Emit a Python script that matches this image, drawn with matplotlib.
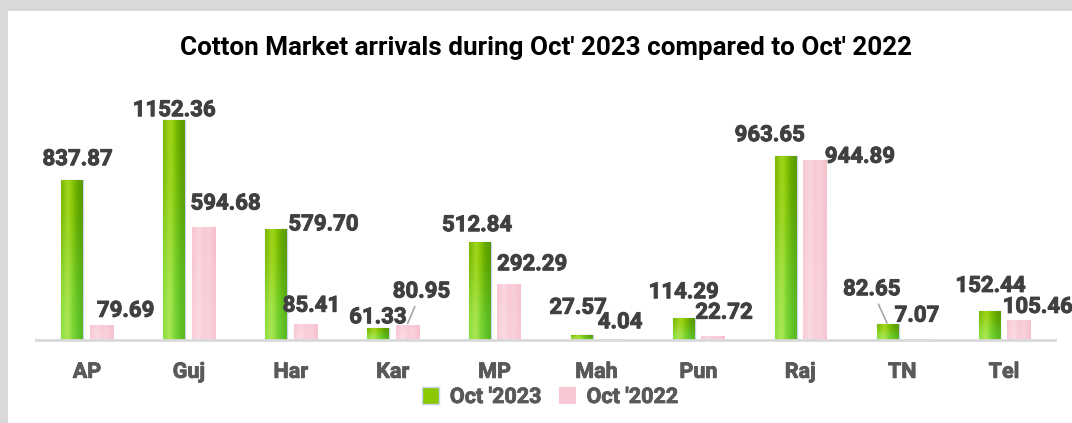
import numpy as np
import matplotlib.pyplot as plt
import matplotlib.patheffects as pe
from matplotlib.colors import to_rgb
from matplotlib.patches import Patch, Rectangle

# 数据
states = ['AP', 'Guj', 'Har', 'Kar', 'MP', 'Mah', 'Pun', 'Raj', 'TN', 'Tel']
oct_2023 = [837.87, 1152.36, 579.70, 61.33, 512.84, 27.57, 114.29, 963.65, 82.65, 152.44]
oct_2022 = [79.69, 594.68, 85.41, 80.95, 292.29, 4.04, 22.72, 944.89, 7.07, 105.46]

# 数据标签偏移 (像素)
off_2023 = [(5, 21), (0, 10), (47, 5), (0, 11), (-3, 17), (-4, 27), (0, 26), (-16, 21), (-16, 35), (1, 25)]
off_2022 = [(24, 14), (22, 23), (6, 18), (14, 33), (23, 20), (9, 17), (11, 23), (45, 3), (0, 23), (19, 13)]
# 需要引导线的标签
leader_2023 = ['TN']
leader_2022 = ['Kar']

plt.rcParams['font.family'] = ['Roboto', 'DejaVu Sans']

fig = plt.figure(figsize=(10.72, 4.23), dpi=100)
fig.patch.set_facecolor('#d9d9d9')
fig.patches.append(Rectangle((8 / 1072, 0), 1, 1 - 11 / 423, transform=fig.transFigure,
                             facecolor='white', edgecolor='none', zorder=-5))

ax = fig.add_axes([36 / 1072, 83 / 423, 1019 / 1072, 248 / 423])
ax.set_facecolor('none')
ax.set_zorder(2)

green_grad = np.array([[to_rgb(c) for c in ['#7cb800', '#a8da22', '#8cc800', '#6aac00', '#5a9a00']],
                       [to_rgb(c) for c in ['#90e244', '#b8ea60', '#80da3a', '#68cc30', '#5cba22']]])
pink_grad = np.array([[to_rgb(c) for c in ['#f8c6d2', '#fbdce4', '#f7c2cf', '#f9d4dd', '#f6c0cd']],
                      [to_rgb(c) for c in ['#f9cdd8', '#fce2e8', '#f8c8d3', '#fad8e0', '#f7c5d1']]])

x = np.arange(len(states))
bars1 = ax.bar(x - 0.143, oct_2023, 0.215, color='#8cc800', edgecolor='#c6d4ee', linewidth=1, zorder=2)
bars2 = ax.bar(x + 0.143, oct_2022, 0.23, color='#f7c6d2', edgecolor='none', zorder=2)

for bars, grad in [(bars1, green_grad), (bars2, pink_grad)]:
    for b in bars:
        x0, y0 = b.get_x(), b.get_y()
        im = ax.imshow(grad, extent=[x0, x0 + b.get_width(), y0, y0 + b.get_height()],
                       aspect='auto', interpolation='bicubic', zorder=2.5)
        im.set_clip_path(b)

lbl_color = '#404040'
thick = [pe.withStroke(linewidth=0.7, foreground=lbl_color)]
for bars, vals, offs, leaders in [(bars1, oct_2023, off_2023, leader_2023),
                                  (bars2, oct_2022, off_2022, leader_2022)]:
    for i, (b, v) in enumerate(zip(bars, vals)):
        cx = b.get_x() + b.get_width() / 2
        arrow = None
        if states[i] in leaders:
            arrow = dict(arrowstyle='-', color='#a6a6a6', lw=1.2, shrinkA=1, shrinkB=1)
        t = ax.annotate(f'{v:.2f}', xy=(cx, v), xytext=offs[i], textcoords='offset pixels',
                        ha='center', va='center', fontsize=16, fontweight='bold',
                        color=lbl_color, arrowprops=arrow, zorder=4)
        t.set_path_effects(thick)

ax.set_xlim(-0.5, len(states) - 0.5)
ax.set_ylim(0, 1300)
ax.set_xticks(x)
ax.set_xticklabels(states, fontsize=15.5, fontweight='bold', color='#595959')
for t in ax.get_xticklabels():
    t.set_path_effects([pe.withStroke(linewidth=0.6, foreground='#595959')])
ax.tick_params(axis='x', length=0, pad=15)
ax.set_yticks([])
for s in ['top', 'right', 'left']:
    ax.spines[s].set_visible(False)
ax.spines['bottom'].set_color('#d9d9d9')
ax.spines['bottom'].set_linewidth(2)

fig.text(546 / 1072, 1 - 48 / 423, "Cotton Market arrivals during Oct' 2023 compared to Oct' 2022",
         ha='center', va='center', fontsize=18.7, fontweight='bold', color='black')

handles = [Patch(facecolor='#8cc800', edgecolor='#c6d4ee', label="Oct '2023"),
           Patch(facecolor='#f8c8d4', edgecolor='none', label="Oct '2022")]
leg = fig.legend(handles=handles, loc='center', bbox_to_anchor=(550 / 1072, 26 / 423), ncol=2,
                 frameon=False, handlelength=0.8, handleheight=0.8, handletextpad=0.5,
                 columnspacing=0.8, prop={'size': 15.5, 'weight': 'bold'})
for t in leg.get_texts():
    t.set_color('#595959')
    t.set_path_effects([pe.withStroke(linewidth=0.6, foreground='#595959')])

fig.savefig('out.png', dpi=100, facecolor=fig.get_facecolor())
